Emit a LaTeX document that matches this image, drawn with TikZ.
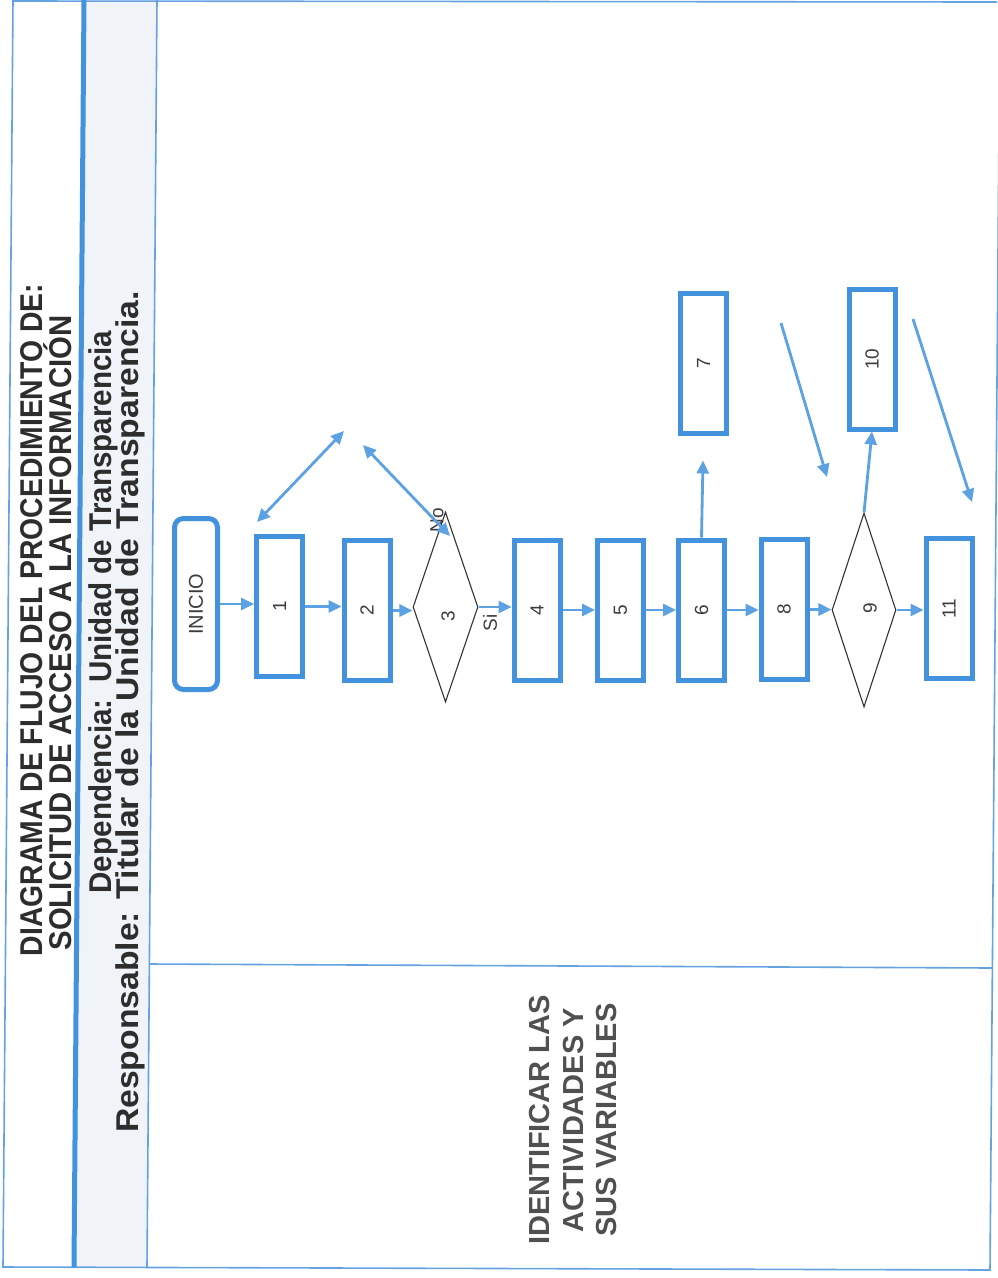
\documentclass[tikz,border=0pt]{standalone}
\usepackage{fontspec}
\setmainfont{Liberation Sans}
\usepackage{graphicx}
\usetikzlibrary{arrows.meta,shapes.geometric}
\definecolor{boxblue}{RGB}{66,146,222}
\definecolor{arrblue}{RGB}{92,162,226}
\definecolor{frameblue}{RGB}{100,162,226}
\definecolor{txtgray}{RGB}{60,60,60}
\definecolor{hdrgray}{RGB}{45,45,45}
\definecolor{colfill}{RGB}{240,243,248}
\begin{document}
\begin{tikzpicture}[x=1pt,y=-1pt,
  procbox/.style={draw=boxblue, line width=5pt, minimum width=46pt, minimum height=140pt, inner sep=0pt, text=txtgray, font=\fontsize{19}{20}\selectfont},
  startbox/.style={procbox, rounded corners=9pt, minimum width=43pt, minimum height=171pt, font=\fontsize{20}{22}\selectfont},
  decision/.style={diamond, draw=black!80, line width=1.1pt, inner sep=0pt, text=txtgray, font=\fontsize{19}{20}\selectfont},
  flow/.style={draw=arrblue, line width=2.8pt, -{Triangle[length=13pt,width=12pt]}},
  bothflow/.style={draw=arrblue, line width=2.8pt, {Triangle[length=13pt,width=12pt]}-{Triangle[length=13pt,width=12pt]}},
  framel/.style={draw=frameblue, line width=1.6pt},
  rottext/.style={rotate=90, text=txtgray, inner sep=0pt},
  hdr/.style={rotate=90, text=hdrgray, inner sep=0pt}
]
\useasboundingbox (0,0) rectangle (997,1278);
\fill[white] (0,0) rectangle (997,1278);
% frame
\fill[colfill] (84,0) -- (157,0) -- (147,1267) -- (74,1267) -- cycle;
\draw[framel] (13,1) -- (997,2);
\draw[framel] (13,0) -- (3,1267) -- (990,1270) -- (1000,0);
\draw[draw=boxblue, line width=5pt] (84,0) -- (74,1267);
\draw[framel] (157,0) -- (147,1267);
\draw[framel] (149.5,964) -- (992.4,968);
% header texts
\node[hdr, xscale=0.9, font=\bfseries\fontsize{31.5}{30}\selectfont] (t1) at (32,620) {DIAGRAMA DE FLUJO DEL PROCEDIMIENTO DE:};
\node[hdr, xscale=0.93, font=\bfseries\fontsize{31.5}{30}\selectfont] (t2) at (58,633) {SOLICITUD DE ACCESO A LA INFORMACIÓN};
\node[hdr, xscale=0.94, font=\bfseries\fontsize{31.5}{30}\selectfont] (t3) at (103,612) {Dependencia:\ \ Unidad de Transparencia};
\node[hdr, xscale=1.07, font=\bfseries\fontsize{31.5}{30}\selectfont] (t4) at (130,712) {Responsable: Titular de la Unidad de Transparencia.};
\node[rottext, align=center, text=txtgray!90, font=\bfseries\fontsize{29}{33.5}\selectfont] (ident) at (573.5,1120) {IDENTIFICAR LAS\\ACTIVIDADES Y\\SUS VARIABLES};
% flow nodes
\node[startbox] (inicio) at (196,604) {\rotatebox{90}{INICIO}};
\node[procbox] (b1) at (279.5,606.5) {\rotatebox{90}{1}};
\node[procbox] (b2) at (367,610.5) {\rotatebox{90}{2}};
\node[decision, minimum width=65pt, minimum height=190pt] (d3) at (445.5,607) {};
\node[procbox] (b4) at (537,610) {\rotatebox{90}{4}};
\node[procbox] (b5) at (620.5,610) {\rotatebox{90}{5}};
\node[procbox] (b6) at (701.5,610) {\rotatebox{90}{6}};
\node[procbox] (b8) at (784,609.5) {\rotatebox{90}{8}};
\node[decision, minimum width=64pt, minimum height=194pt] (d9) at (864,610) {};
\node[procbox] (b11) at (949,608.5) {\rotatebox{90}{11}};
\node[procbox] (b7) at (703.5,363) {\rotatebox{90}{7}};
\node[procbox] (b10) at (872,359) {\rotatebox{90}{10}};
% labels
\node[rottext, font=\fontsize{19}{20}\selectfont] (l3) at (448,616) {3};
\node[rottext, font=\fontsize{19}{20}\selectfont] (l9) at (870,608) {9};
\node[rottext, font=\fontsize{19}{20}\selectfont] (lno) at (437,520) {No};
\node[rottext, font=\fontsize{19}{20}\selectfont] (lsi) at (490,623) {Si};
% connectors
\draw[flow] (inicio.east) -- (inicio.east -| b1.west);
\draw[flow] (b1.east) -- (b1.east -| b2.west);
\draw[flow] (b2.east) -- (b2.east -| d3.west);
\draw[flow] (d3.east) -- (d3.east -| b4.west);
\draw[flow] (b4.east) -- (b4.east -| b5.west);
\draw[flow] (b5.east) -- (b5.east -| b6.west);
\draw[flow] (b6.east) -- (b6.east -| b8.west);
\draw[flow] (b8.east) -- (b8.east -| d9.west);
\draw[flow] (d9.east) -- (d9.east -| b11.west);
\draw[flow, shorten >=25pt] (b6.north) -- (b7.south);
\draw[flow] (d9.north) -- (b10.south);
% free arrows
\coordinate (fa1) at (257,522);
\coordinate (fa2) at (344,431);
\coordinate (fb1) at (363,445);
\coordinate (fb2) at (450,536);
\coordinate (fc1) at (781,323);
\coordinate (fc2) at (827,477);
\coordinate (fd1) at (913,319);
\coordinate (fd2) at (972,502);
\draw[bothflow] (fa1) -- (fa2);
\draw[bothflow] (fb1) -- (fb2);
\draw[flow] (fc1) -- (fc2);
\draw[flow] (fd1) -- (fd2);
\end{tikzpicture}
\end{document}
